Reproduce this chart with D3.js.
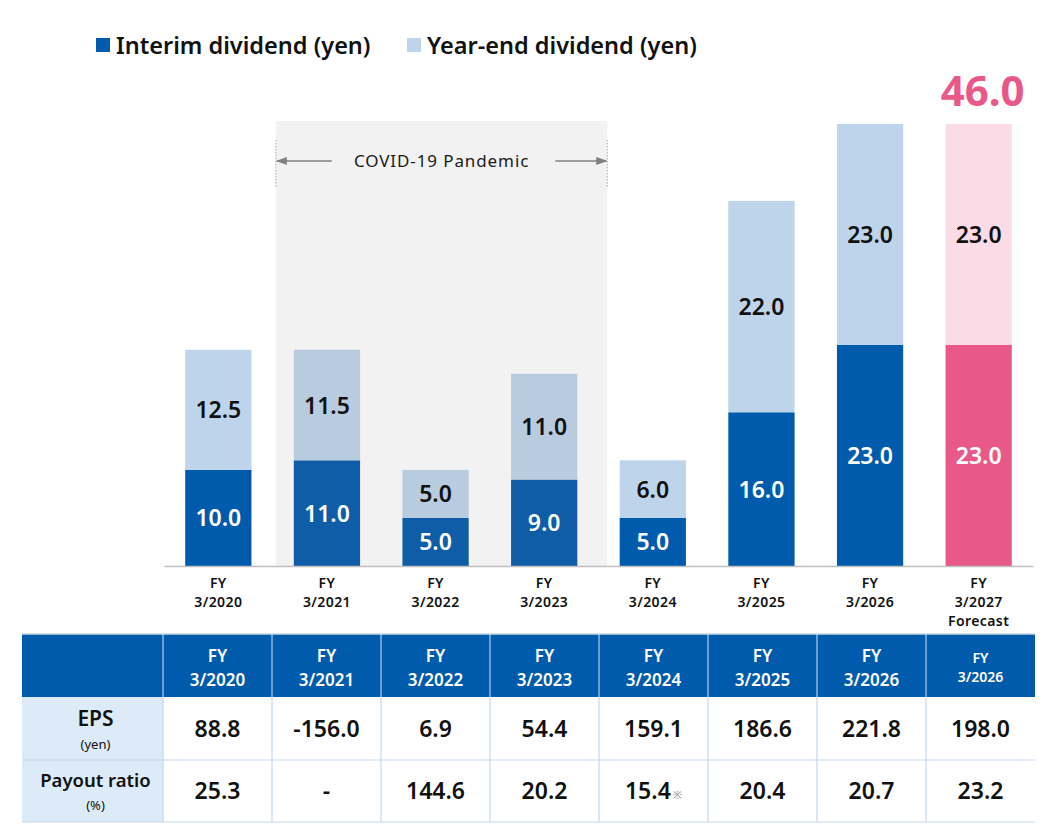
<!DOCTYPE html>
<html><head><meta charset="utf-8">
<script src="https://cdn.jsdelivr.net/npm/d3@7"></script>
<style>
html,body{margin:0;padding:0;background:#fff;}
svg{display:block;font-family:"Noto Sans","DejaVu Sans",sans-serif;}
</style></head>
<body>
<svg id="chart" width="1058" height="832"></svg>
<script>
// ---- data ----
const categories = ["3/2020","3/2021","3/2022","3/2023","3/2024","3/2025","3/2026","3/2027"];
const categoryNotes = ["","","","","","","","Forecast"];
const interim = [10.0, 11.0, 5.0, 9.0, 5.0, 16.0, 23.0, 23.0];
const yearEnd = [12.5, 11.5, 5.0, 11.0, 6.0, 22.0, 23.0, 23.0];
const forecastTotal = "46.0";
const seriesNames = ["Interim dividend (yen)", "Year-end dividend (yen)"];
const covidYears = ["3/2021","3/2022","3/2023"];
const covidLabel = "COVID-19 Pandemic";
const tableHeaders = ["3/2020","3/2021","3/2022","3/2023","3/2024","3/2025","3/2026","3/2026"];
const eps = ["88.8","-156.0","6.9","54.4","159.1","186.6","221.8","198.0"];
const payout = ["25.3","-","144.6","20.2","15.4","20.4","20.7","23.2"];
const payoutNotes = ["","","","","※","","",""];

// ---- styles ----
const C = {
  interim:"#005bac", yearEnd:"#bdd4ea",
  covidInterim:"#0f5ca7", covidYearEnd:"#b8cbdf",
  fcInterim:"#e8598a", fcYearEnd:"#fbdbe6",
  covidBg:"#f2f2f2", tableHead:"#005bac", tableSide:"#ddebf9", tableLine:"#c3d7ec"
};

const svg = d3.select("#chart");
const x = d3.scaleBand().domain(categories).range([164, 1033]).paddingInner(0.39).paddingOuter(0.195);
const y = d3.scaleLinear().domain([0, 46]).range([566, 124]);
const bw = x.bandwidth();

function colorFor(cat, kind){
  const i = categories.indexOf(cat);
  if (i === categories.length-1) return kind==="i"?C.fcInterim:C.fcYearEnd;
  if (covidYears.includes(cat)) return kind==="i"?C.covidInterim:C.covidYearEnd;
  return kind==="i"?C.interim:C.yearEnd;
}

// COVID background
const cx0 = x(covidYears[0]) - 18;
const cx1 = x(covidYears[covidYears.length-1]) + bw + 30;
svg.append("rect").attr("x", cx0).attr("y", 121).attr("width", cx1-cx0).attr("height", 566-121).attr("fill", C.covidBg);
const ay = 161;
const defs = svg.append("defs");
defs.append("marker").attr("id","arr").attr("viewBox","0 0 10 10").attr("refX",9).attr("refY",5)
  .attr("markerWidth",7).attr("markerHeight",7).attr("orient","auto-start-reverse")
  .append("path").attr("d","M0,1.5 L10,5 L0,8.5 Z").attr("fill","#808080");
[cx0, cx1].forEach(v=>{
  svg.append("line").attr("x1",v).attr("x2",v).attr("y1",140).attr("y2",188)
    .attr("stroke","#999").attr("stroke-width",0.8).attr("stroke-dasharray","1.5,1.5");
});
svg.append("line").attr("x1",cx0+56).attr("x2",cx0+1).attr("y1",ay).attr("y2",ay)
  .attr("stroke","#808080").attr("stroke-width",1.6).attr("marker-end","url(#arr)");
svg.append("line").attr("x1",cx1-52).attr("x2",cx1-1).attr("y1",ay).attr("y2",ay)
  .attr("stroke","#808080").attr("stroke-width",1.6).attr("marker-end","url(#arr)");
svg.append("text").attr("x",(cx0+cx1)/2).attr("y",ay+6).attr("text-anchor","middle")
  .attr("font-size",17).attr("fill","#1a1a1a").attr("letter-spacing","0.9").text(covidLabel);

// bars
const data = categories.map((c,i)=>({c, i, a: interim[i], b: yearEnd[i]}));
const g = svg.append("g");
g.selectAll("rect.int").data(data).join("rect").attr("class","int")
  .attr("x", d=>x(d.c)).attr("width", bw)
  .attr("y", d=>y(d.a)).attr("height", d=>y(0)-y(d.a))
  .attr("fill", d=>colorFor(d.c,"i"));
g.selectAll("rect.ye").data(data).join("rect").attr("class","ye")
  .attr("x", d=>x(d.c)).attr("width", bw)
  .attr("y", d=>y(d.a+d.b)).attr("height", d=>y(d.a)-y(d.a+d.b))
  .attr("fill", d=>colorFor(d.c,"y"));

// value labels
g.selectAll("text.vi").data(data).join("text")
  .attr("x", d=>x(d.c)+bw/2).attr("y", d=>(y(0)+y(d.a))/2 + 8.5)
  .attr("text-anchor","middle").attr("font-size",23).attr("font-weight",600)
  .attr("fill","#fff").text(d=>d.a.toFixed(1));
g.selectAll("text.vy").data(data).join("text")
  .attr("x", d=>x(d.c)+bw/2).attr("y", d=>(y(d.a)+y(d.a+d.b))/2 + 8.5)
  .attr("text-anchor","middle").attr("font-size",23).attr("font-weight",600)
  .attr("fill","#111").text(d=>d.b.toFixed(1));

// forecast total
const last = categories[categories.length-1];
svg.append("text").attr("x", x(last)+bw/2+4).attr("y", 106).attr("text-anchor","middle")
  .attr("font-size",42).attr("font-weight",700).attr("fill","#e8598a").text(forecastTotal);

// x axis
const xAxis = d3.axisBottom(x).tickSize(0).tickFormat("");
const ax = svg.append("g").attr("transform","translate(0,566)").call(xAxis);
ax.select(".domain").attr("stroke","#bfbfbf").attr("stroke-width",1.5);
const tl = svg.append("g");
categories.forEach((c,i)=>{
  const lines = ["FY", c].concat(categoryNotes[i] ? [categoryNotes[i]] : []);
  lines.forEach((s,k)=>{
    tl.append("text").attr("x", x(c)+bw/2).attr("y", 588 + k*19).attr("text-anchor","middle")
      .attr("font-size",14).attr("font-weight",600).attr("letter-spacing","0.4").attr("fill","#111").text(s);
  });
});

// legend
const leg = svg.append("g");
[[96, C.interim, seriesNames[0]], [407, C.yearEnd, seriesNames[1]]].forEach(([lx,col,txt])=>{
  leg.append("rect").attr("x",lx).attr("y",38).attr("width",14).attr("height",14).attr("fill",col);
  leg.append("text").attr("x",lx+20).attr("y",54).attr("font-size",23.5).attr("font-weight",600)
    .attr("fill","#111").text(txt);
});

// table
const tx = d3.scaleBand().domain(d3.range(tableHeaders.length)).range([163, 1035]);
const tLeft = 22, tRight = 1035;
const rows = [{top:634, h:63}, {top:697, h:63}, {top:760, h:62}];
const tg = svg.append("g");
tg.append("rect").attr("x",tLeft).attr("y",rows[0].top).attr("width",tRight-tLeft).attr("height",rows[0].h).attr("fill",C.tableHead);
tg.append("rect").attr("x",tLeft).attr("y",rows[1].top).attr("width",163-tLeft).attr("height",rows[1].h+rows[2].h).attr("fill",C.tableSide);
tg.append("line").attr("x1",tLeft).attr("x2",tRight).attr("y1",rows[0].top).attr("y2",rows[0].top).attr("stroke","#c9d3de").attr("stroke-width",1.5);
[rows[2].top, rows[2].top+rows[2].h].forEach(yy=>{
  tg.append("line").attr("x1",tLeft).attr("x2",tRight).attr("y1",yy).attr("y2",yy).attr("stroke",C.tableLine).attr("stroke-width",1.2);
});
tableHeaders.forEach((h,i)=>{
  const xx = tx(i);
  tg.append("line").attr("x1",xx).attr("x2",xx).attr("y1",rows[0].top).attr("y2",rows[0].top+rows[0].h).attr("stroke","#d5e3f2").attr("stroke-width",1);
  tg.append("line").attr("x1",xx).attr("x2",xx).attr("y1",rows[1].top).attr("y2",rows[2].top+rows[2].h).attr("stroke",C.tableLine).attr("stroke-width",1.2);
  const cxm = xx + tx.bandwidth()/2;
  const small = i === tableHeaders.length-1;
  const fs = small ? 14 : 17;
  tg.append("text").attr("x",cxm).attr("y", small?663:662).attr("text-anchor","middle").attr("fill","#fff")
    .attr("font-weight",600).attr("font-size",fs).text("FY");
  tg.append("text").attr("x",cxm).attr("y", small?682:686).attr("text-anchor","middle").attr("fill","#fff")
    .attr("font-weight",600).attr("font-size",fs).text(h);
  tg.append("text").attr("x",cxm).attr("y",737).attr("text-anchor","middle").attr("font-size",23).attr("font-weight",600).attr("fill","#111").text(eps[i]);
  const pt = tg.append("text").attr("x",cxm).attr("y",799).attr("text-anchor","middle").attr("font-size",23).attr("font-weight",600).attr("fill","#111");
  pt.append("tspan").text(payout[i]);
  if (payoutNotes[i]) pt.append("tspan").attr("font-size",11).attr("font-weight",400).attr("fill","#888").attr("dx",2).text(payoutNotes[i]);
});
// row labels
const lcx = (tLeft+163)/2 + 3;
tg.append("text").attr("x",lcx).attr("y",726).attr("text-anchor","middle").attr("font-size",21).attr("font-weight",600).attr("fill","#111").text("EPS");
tg.append("text").attr("x",lcx).attr("y",749).attr("text-anchor","middle").attr("font-size",13).attr("fill","#111").text("(yen)");
tg.append("text").attr("x",lcx).attr("y",787).attr("text-anchor","middle").attr("font-size",18.5).attr("font-weight",600).attr("fill","#111").text("Payout ratio");
tg.append("text").attr("x",lcx).attr("y",810).attr("text-anchor","middle").attr("font-size",13).attr("fill","#111").text("(%)");
</script>
</body></html>
